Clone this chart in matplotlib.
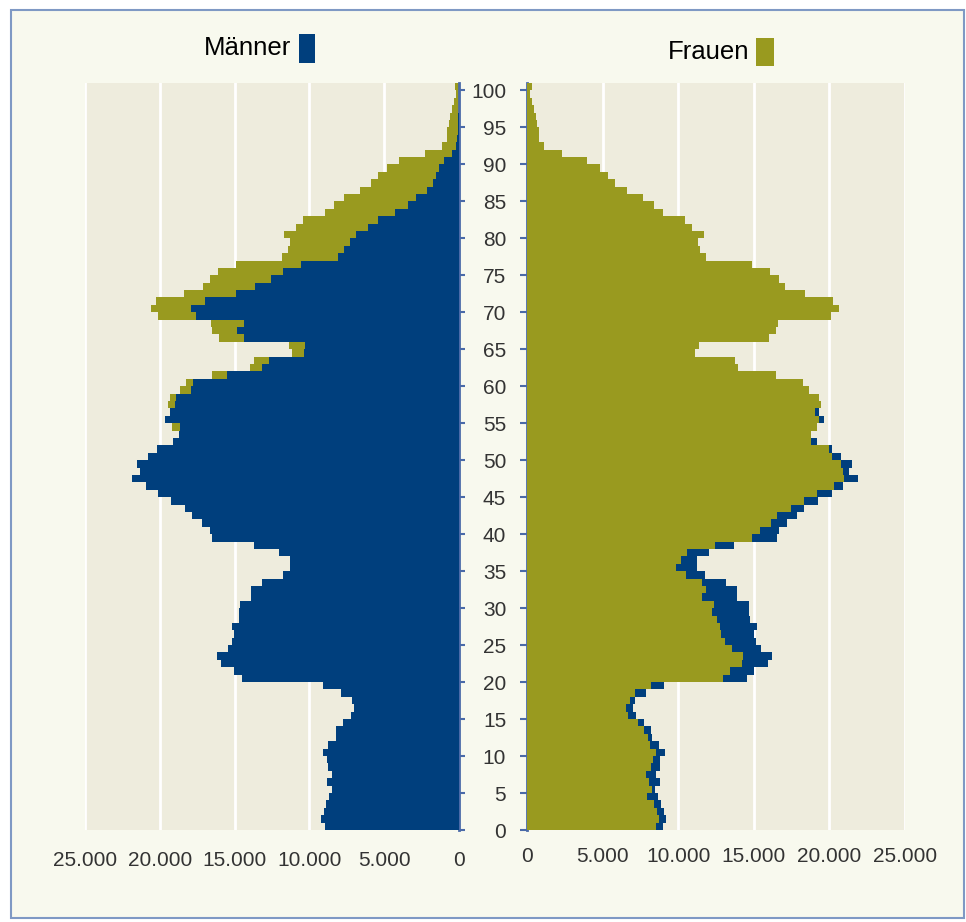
import numpy as np
import matplotlib
matplotlib.use("Agg")
import matplotlib.pyplot as plt
from matplotlib.patches import Rectangle
from matplotlib.ticker import FuncFormatter

plt.rcParams['font.family'] = ['Liberation Sans', 'DejaVu Sans']

# Alter 0..100
ages = np.arange(0, 101)

maenner = [8980, 9220, 9040, 8890, 8690, 8490, 8820, 8510, 8780, 8800,
           9110, 8750, 8240, 8220, 7730, 7240, 7040, 7130, 7890, 9090,
           14530, 15020, 15930, 16180, 15470, 15150, 15020, 15180, 14730, 14690,
           14670, 13910, 13910, 13150, 11760, 11270, 11270, 12020, 13690, 16530,
           16670, 17200, 17860, 18310, 19260, 20150, 20910, 21890, 21310, 21510,
           20780, 20200, 19150, 18710, 18660, 19640, 19310, 19000, 18930, 17890,
           17780, 15530, 13150, 12710, 10380, 10310, 14380, 14870, 14400, 17560,
           17890, 17000, 14880, 13660, 12600, 11780, 10580, 8070, 7670, 7310,
           6910, 6090, 5420, 4270, 3420, 2870, 2160, 1710, 1560, 1330,
           1000, 490, 200, 120, 80, 60, 40, 30, 20, 15,
           15]

frauen = [8500, 8700, 8570, 8370, 7950, 8260, 8040, 7900, 8170, 8320,
          8540, 8130, 7990, 7710, 7370, 6710, 6580, 6800, 7150, 8210,
          12940, 13400, 14220, 14260, 13580, 13120, 12810, 12740, 12560, 12230,
          12340, 11590, 11810, 11570, 10490, 9870, 10160, 10600, 12410, 14900,
          15390, 16120, 16540, 17440, 18330, 19210, 20290, 20950, 20870, 20800,
          20200, 19980, 18810, 18750, 19210, 19320, 19030, 19430, 19320, 18640,
          18260, 16490, 13950, 13730, 11130, 11370, 16030, 16490, 16600, 20120,
          20620, 20230, 18400, 17090, 16670, 16100, 14900, 11810, 11440, 11330,
          11720, 10900, 10440, 8990, 8370, 7680, 6600, 5850, 5390, 4840,
          4000, 2300, 1150, 815, 815, 640, 600, 460, 330, 200,
          300]

x_ticks = [0, 5000, 10000, 15000, 20000, 25000]
y_ticks = list(range(0, 101, 5))

blau = '#003F7D'
oliv = '#999A1F'
panel = '#EEECDD'
creme = '#F8F9EE'
achse = '#4A6AA8'
grau = '#333333'

fmt = FuncFormatter(lambda v, p: '{:,.0f}'.format(v).replace(',', '.'))

fig = plt.figure(figsize=(9.66, 9.22), dpi=100, facecolor='white')
W, H = 966, 922

# Rahmen
fig.patches.append(Rectangle((10.5 / W, 1 - 918 / H), 953.5 / W, 908 / H,
                             transform=fig.transFigure, facecolor=creme,
                             edgecolor='#7F99C4', linewidth=1.5, zorder=-5))

bottom = 1 - 830 / H
height = (830 - 83) / H
axl = fig.add_axes([85 / W, bottom, 374 / W, height])
axr = fig.add_axes([527 / W, bottom, 378 / W, height])

# links: Männer vorne, Frauen dahinter
axl.barh(ages, frauen, height=1, align='edge', color=oliv, linewidth=0, zorder=2)
axl.barh(ages, maenner, height=1, align='edge', color=blau, linewidth=0, zorder=3)
# rechts: Frauen vorne, Männer dahinter
axr.barh(ages, maenner, height=1, align='edge', color=blau, linewidth=0, zorder=2)
axr.barh(ages, frauen, height=1, align='edge', color=oliv, linewidth=0, zorder=3)

for ax in (axl, axr):
    ax.set_facecolor(panel)
    ax.set_ylim(0, 101)
    ax.set_xticks(x_ticks)
    ax.xaxis.set_major_formatter(fmt)
    ax.grid(axis='x', color='white', linewidth=2, zorder=1)
    ax.set_axisbelow(True)
    for s in ax.spines.values():
        s.set_visible(False)
    ax.tick_params(axis='x', length=0, labelsize=15, colors=grau)

axl.set_xlim(25000, 0)
axr.set_xlim(0, 25000)
axl.tick_params(axis='x', pad=15)
axr.tick_params(axis='x', pad=12)

axl.spines['right'].set_visible(True)
axl.spines['right'].set_color(achse)
axl.spines['right'].set_linewidth(2)
axl.yaxis.tick_right()
axl.set_yticks(y_ticks)
axl.tick_params(axis='y', length=4, width=1.5, color=achse, labelright=False)

axr.spines['left'].set_visible(True)
axr.spines['left'].set_color(achse)
axr.spines['left'].set_linewidth(2)
axr.set_yticks(y_ticks)
axr.tick_params(axis='y', length=5, width=1.5, color=achse, labelsize=15,
                labelcolor=grau, pad=10)

# Legenden-Titel
fig.text(291 / W, 1 - 48 / H, 'Männer', ha='right', va='center', fontsize=18.5)
fig.patches.append(Rectangle((299 / W, 1 - 63 / H), 16 / W, 29 / H,
                             transform=fig.transFigure, facecolor=blau))
fig.text(749 / W, 1 - 52 / H, 'Frauen', ha='right', va='center', fontsize=18.5)
fig.patches.append(Rectangle((756 / W, 1 - 66 / H), 18 / W, 28 / H,
                             transform=fig.transFigure, facecolor=oliv))

fig.savefig('out.png', dpi=100, facecolor='white')
